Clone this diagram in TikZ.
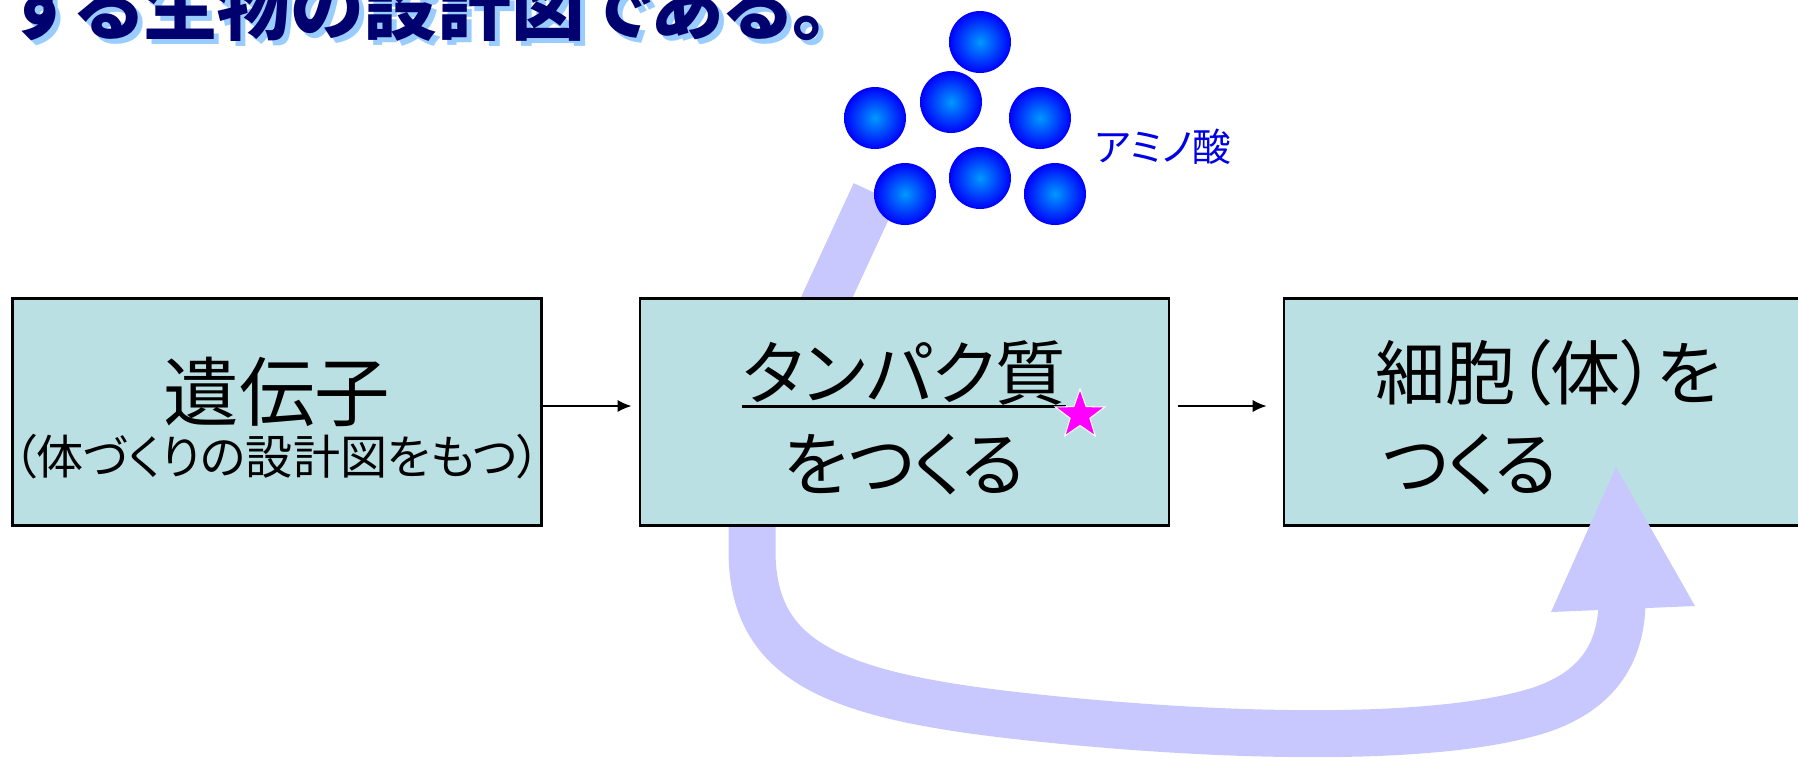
\documentclass[tikz,border=0pt]{standalone}
\usepackage{fontspec}
\setmainfont[RawFeature=+palt]{Noto Sans CJK JP}
\usetikzlibrary{positioning,arrows.meta,shapes.geometric}

\definecolor{boxfill}{RGB}{187,224,227}
\definecolor{bandblue}{RGB}{200,200,255}
\definecolor{titlenavy}{RGB}{0,0,110}
\definecolor{shadowblue}{RGB}{153,204,255}
\definecolor{ballin}{RGB}{0,153,255}
\definecolor{ballout}{RGB}{0,0,250}
\definecolor{aablue}{RGB}{0,0,230}
\definecolor{starpink}{RGB}{255,0,255}

% underline drawn as a rule below the text
\newcommand{\undl}[1]{\setbox0\hbox{#1}\rlap{\rule[-0.12em]{\wd0}{0.85pt}}\box0}
% a bit of room above the first line
\newcommand{\topstrut}{\rule{0pt}{1.0em}}

\tikzset{
	stage/.style={draw, line width=0.6pt, fill=boxfill, minimum width=5.29cm, minimum height=2.27cm, align=center, inner sep=0pt, font=\fontsize{20}{26}\selectfont},
	link/.style={-{Latex[length=4pt,width=3.5pt]}, line width=0.5pt},
	band/.style={draw=bandblue, line width=0.47cm},
	amino/.style={circle, inner sep=0pt, minimum size=0.62cm, inner color=ballin, outer color=ballout},
	heading/.style={anchor=base west, inner sep=0pt, font=\fontsize{21}{21}\selectfont\bfseries},
}

\begin{document}
\begin{tikzpicture}
	\useasboundingbox (0,0) rectangle (17.98,-7.58);

	% last line of the slide text
	\node[heading, text=shadowblue] (headshadow) at (0.13,-0.39) {する生物の設計図である。};
	\node[heading, text=titlenavy] (head) at (0.08,-0.34) {する生物の設計図である。};

	% broad arrow: amino acids -> protein -> cell
	\coordinate (bandtop) at (8.75,-1.93);
	\coordinate (bandend) at (16.22,-6.0);
	\draw[band] (bandtop) -- (8.26,-2.99) .. controls (7.9,-3.8) and (7.52,-4.3) .. (7.52,-5.0)
		-- (7.52,-5.5) .. controls (7.52,-6.6) and (8.3,-6.95) .. (10.2,-7.16)
		.. controls (12.0,-7.36) and (14.3,-7.45) .. (15.4,-7.1)
		.. controls (16.0,-6.9) and (16.22,-6.5) .. (bandend);

	\node[stage] (gene) at (2.77,-4.12) {{\fontsize{21.5}{26}\selectfont\topstrut 遺伝子}\\[-10.6pt]{\fontsize{13.4}{16}\selectfont （体づくりの設計図をもつ）}};
	\node[stage, right=0.96cm of gene] (protein) {\topstrut\undl{タンパク質}\\をつくる};
	\node[stage, right=1.13cm of protein, align=left] (cell) {\topstrut 細胞（体）を\\\hspace*{2pt}つくる};

	\fill[bandblue] (16.16,-4.67) -- (15.51,-6.12) -- (16.95,-6.06) -- cycle;

	\draw[link, shorten >=0.07cm] ([yshift=0.06cm]gene.east) -- ([yshift=0.06cm]protein.west);
	\draw[link, shorten <=0.08cm, shorten >=0.16cm] ([yshift=0.06cm]protein.east) -- ([yshift=0.06cm]cell.west);

	\node[star, star points=5, star point ratio=2.5, fill=starpink, draw=white, line width=0.3pt, minimum size=0.52cm, inner sep=0pt] (mark) at (10.80,-4.15) {};

	% amino acids
	\foreach \x/\y [count=\i] in {9.80/-0.42, 9.51/-1.02, 8.75/-1.18, 10.40/-1.18, 9.05/-1.94, 9.80/-1.78, 10.55/-1.94}
		\node[amino] (aa\i) at (\x,\y) {};
	\node[text=aablue, font=\fontsize{11}{13}\selectfont] (aalabel) at (11.63,-1.47) {アミノ酸};
\end{tikzpicture}
\end{document}
